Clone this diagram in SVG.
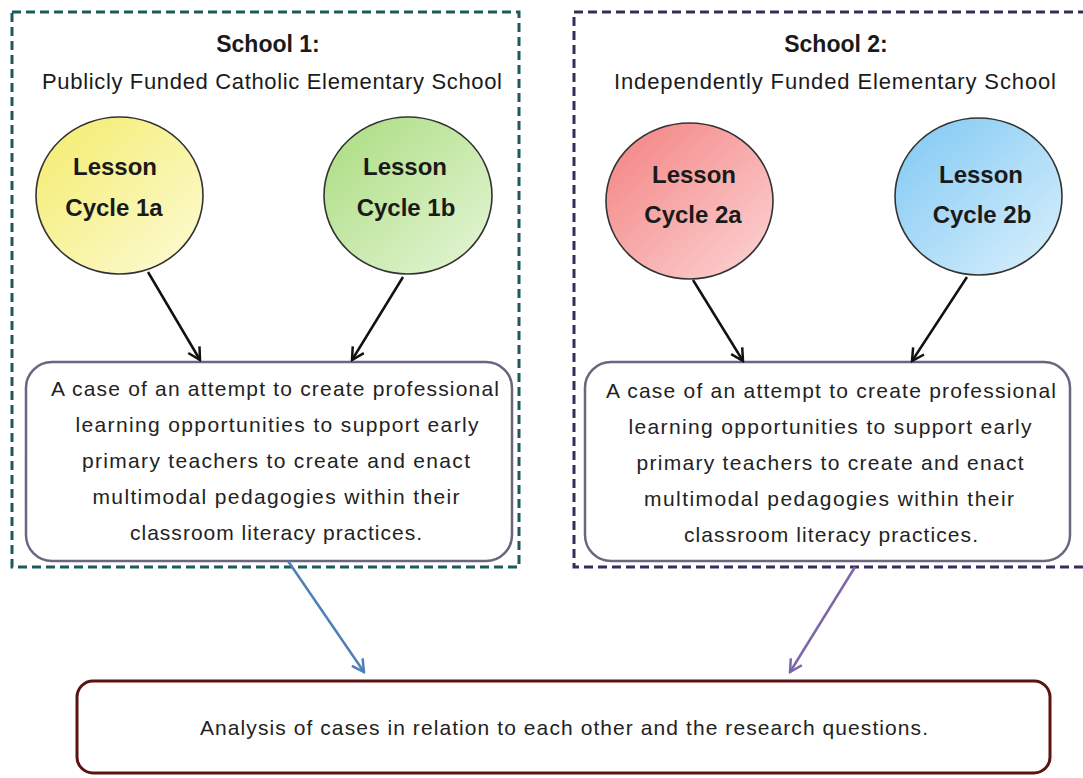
<svg xmlns="http://www.w3.org/2000/svg" width="1083" height="778" viewBox="0 0 1083 778">
<style>
.outer{fill:none;stroke-width:3;stroke-dasharray:9 5}
.inner{fill:#fff;stroke:#6a6680;stroke-width:2.5}
.circ{stroke:#333;stroke-width:1.6}
.t{font-family:"Liberation Sans",Arial,sans-serif;fill:#1a1a1a;text-anchor:middle}
.title{font-size:23px;font-weight:bold}
.sub{font-size:22px}
.les{font-size:24px;font-weight:bold}
.body{font-size:21px;fill:#222}
.conn{fill:none;stroke-width:2.5}
</style>
<defs>
<linearGradient id="gY" x1="0" y1="0" x2="1" y2="1"><stop offset="0" stop-color="#f3ec6a"/><stop offset="1" stop-color="#fdfbd8"/></linearGradient>
<linearGradient id="gG" x1="0" y1="0" x2="1" y2="1"><stop offset="0" stop-color="#a9dc7e"/><stop offset="1" stop-color="#e6f6d8"/></linearGradient>
<linearGradient id="gR" x1="0" y1="0" x2="1" y2="1"><stop offset="0" stop-color="#f48080"/><stop offset="1" stop-color="#fcd6d6"/></linearGradient>
<linearGradient id="gB" x1="0" y1="0" x2="1" y2="1"><stop offset="0" stop-color="#7ec8f3"/><stop offset="1" stop-color="#dcf0fc"/></linearGradient>
<marker id="ahK" viewBox="0 0 16 16" refX="14" refY="8" markerWidth="16" markerHeight="16" markerUnits="userSpaceOnUse" orient="auto"><path d="M2,1.5 L14,8 L2,14.5" fill="none" stroke="#111" stroke-width="2.5"/></marker>
<marker id="ahB" viewBox="0 0 16 16" refX="14" refY="8" markerWidth="16" markerHeight="16" markerUnits="userSpaceOnUse" orient="auto"><path d="M2,1.5 L14,8 L2,14.5" fill="none" stroke="#4f7fb8" stroke-width="2.5"/></marker>
<marker id="ahP" viewBox="0 0 16 16" refX="14" refY="8" markerWidth="16" markerHeight="16" markerUnits="userSpaceOnUse" orient="auto"><path d="M2,1.5 L14,8 L2,14.5" fill="none" stroke="#7d67a8" stroke-width="2.5"/></marker>
</defs>
<rect width="1083" height="778" fill="#fff"/>

<g id="school1">
<rect class="outer" x="12" y="12" width="507" height="555" stroke="#1d5a5a"/>
<text class="t title" x="268" y="52">School 1:</text>
<text class="t sub" x="272" y="89" textLength="460">Publicly  Funded Catholic Elementary School</text>
</g>
<g id="school2">
<rect class="outer" x="574" y="12" width="530" height="555" stroke="#3d2a5c"/>
<text class="t title" x="836" y="52">School 2:</text>
<text class="t sub" x="835" y="89" textLength="442">Independently Funded Elementary School</text>
</g>

<g id="cycle1a">
<ellipse class="circ" cx="119.5" cy="195.5" rx="83.5" ry="78.5" fill="url(#gY)"/>
<text class="t les" x="115" y="175">Lesson</text>
<text class="t les" x="114" y="216">Cycle 1a</text>
</g>
<g id="cycle1b">
<ellipse class="circ" cx="408" cy="195.5" rx="84" ry="78.5" fill="url(#gG)"/>
<text class="t les" x="405" y="175">Lesson</text>
<text class="t les" x="406" y="216">Cycle 1b</text>
</g>
<g id="cycle2a">
<ellipse class="circ" cx="689.5" cy="201" rx="83.5" ry="78" fill="url(#gR)"/>
<text class="t les" x="694" y="183">Lesson</text>
<text class="t les" x="693" y="223">Cycle 2a</text>
</g>
<g id="cycle2b">
<ellipse class="circ" cx="978.5" cy="196.5" rx="83.5" ry="78.5" fill="url(#gB)"/>
<text class="t les" x="981" y="183">Lesson</text>
<text class="t les" x="982" y="223">Cycle 2b</text>
</g>

<g id="case1">
<rect class="inner" x="26" y="362" width="486" height="199" rx="26"/>
<text class="t body" x="275" y="396" textLength="448">A case of an attempt to create professional</text>
<text class="t body" x="277" y="432" textLength="403">learning opportunities to support early</text>
<text class="t body" x="276" y="468" textLength="388">primary teachers to create and enact</text>
<text class="t body" x="276" y="504" textLength="367">multimodal  pedagogies within their</text>
<text class="t body" x="276" y="540" textLength="292">classroom literacy practices.</text>
</g>
<g id="case2">
<rect class="inner" x="585" y="362" width="485" height="199" rx="26"/>
<text class="t body" x="831" y="398" textLength="450">A case of an attempt to create professional</text>
<text class="t body" x="830" y="434" textLength="403">learning opportunities to support early</text>
<text class="t body" x="830" y="470" textLength="387">primary teachers to create and enact</text>
<text class="t body" x="829" y="506" textLength="370">multimodal  pedagogies within their</text>
<text class="t body" x="831" y="542" textLength="294">classroom literacy practices.</text>
</g>

<g id="analysis">
<rect x="77" y="681" width="973" height="92" rx="16" fill="#fff" stroke="#5a1212" stroke-width="3"/>
<text class="t body" x="564" y="735" textLength="728">Analysis of cases in relation to each other and the research questions.</text>
</g>

<g id="connectors">
<line class="conn" x1="148" y1="272" x2="200" y2="360" stroke="#111" marker-end="url(#ahK)"/>
<line class="conn" x1="403" y1="277" x2="352" y2="360" stroke="#111" marker-end="url(#ahK)"/>
<line class="conn" x1="693" y1="280" x2="743" y2="361" stroke="#111" marker-end="url(#ahK)"/>
<line class="conn" x1="967" y1="277" x2="912" y2="361" stroke="#111" marker-end="url(#ahK)"/>
<line class="conn" x1="288" y1="561" x2="364" y2="672" stroke="#4f7fb8" marker-end="url(#ahB)"/>
<line class="conn" x1="855" y1="567" x2="790" y2="672" stroke="#7d67a8" marker-end="url(#ahP)"/>
</g>
</svg>
